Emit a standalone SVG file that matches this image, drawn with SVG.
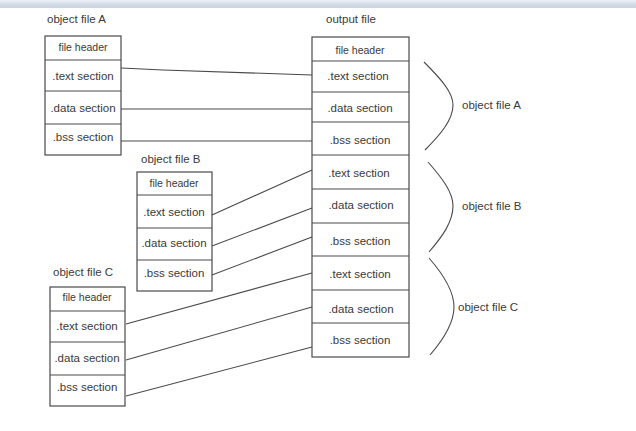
<svg xmlns="http://www.w3.org/2000/svg" width="636" height="431" viewBox="0 0 636 431">
<defs>
<linearGradient id="bar" x1="0" y1="0" x2="0" y2="1">
<stop offset="0" stop-color="#eef2f7"/>
<stop offset="0.5" stop-color="#d3dde9"/>
<stop offset="1" stop-color="#c8d4e2"/>
</linearGradient>
</defs>
<style>
.box{fill:#ffffff;stroke:#4a4a4a;stroke-width:1.2}
.sep{stroke:#4a4a4a;stroke-width:1.2}
.t{font-family:"Liberation Sans",Arial,sans-serif;font-size:11.5px;fill:#3a3a3a;text-anchor:middle;dominant-baseline:central}
.h{font-family:"Liberation Sans",Arial,sans-serif;font-size:10.5px;fill:#3a3a3a;text-anchor:middle;dominant-baseline:central}
.lbl{font-family:"Liberation Sans",Arial,sans-serif;font-size:11.5px;fill:#3a3a3a;dominant-baseline:central}
.c{fill:none;stroke:#4a4a4a;stroke-width:1.1}
</style>
<rect x="0" y="0" width="636" height="431" fill="#ffffff"/>
<rect x="0" y="0" width="636" height="8" fill="url(#bar)"/>

<g id="objA">
<text class="lbl" x="47" y="19">object file A</text>
<rect class="box" x="45" y="36" width="76" height="119"/>
<line class="sep" x1="45" y1="60" x2="121" y2="60"/>
<line class="sep" x1="45" y1="91" x2="121" y2="91"/>
<line class="sep" x1="45" y1="124" x2="121" y2="124"/>
<text class="h" x="83" y="47">file header</text>
<text class="t" x="83" y="76">.text section</text>
<text class="t" x="83" y="108">.data section</text>
<text class="t" x="83" y="137">.bss section</text>
</g>

<g id="objB">
<text class="lbl" x="141" y="159">object file B</text>
<rect class="box" x="137" y="172" width="75" height="119"/>
<line class="sep" x1="137" y1="195" x2="212" y2="195"/>
<line class="sep" x1="137" y1="228" x2="212" y2="228"/>
<line class="sep" x1="137" y1="260" x2="212" y2="260"/>
<text class="h" x="174" y="183">file header</text>
<text class="t" x="174" y="212">.text section</text>
<text class="t" x="174" y="243">.data section</text>
<text class="t" x="174" y="273">.bss section</text>
</g>

<g id="objC">
<text class="lbl" x="53" y="272">object file C</text>
<rect class="box" x="50" y="287" width="75" height="119"/>
<line class="sep" x1="50" y1="311" x2="125" y2="311"/>
<line class="sep" x1="50" y1="342" x2="125" y2="342"/>
<line class="sep" x1="50" y1="375" x2="125" y2="375"/>
<text class="h" x="87" y="297">file header</text>
<text class="t" x="87" y="326">.text section</text>
<text class="t" x="87" y="358">.data section</text>
<text class="t" x="87" y="387">.bss section</text>
</g>

<g id="output">
<text class="lbl" x="326" y="19">output file</text>
<rect class="box" x="312" y="37" width="97" height="320"/>
<line class="sep" x1="312" y1="61" x2="409" y2="61"/>
<line class="sep" x1="312" y1="92" x2="409" y2="92"/>
<line class="sep" x1="312" y1="122" x2="409" y2="122"/>
<line class="sep" x1="312" y1="155" x2="409" y2="155"/>
<line class="sep" x1="312" y1="189" x2="409" y2="189"/>
<line class="sep" x1="312" y1="223" x2="409" y2="223"/>
<line class="sep" x1="312" y1="256" x2="409" y2="256"/>
<line class="sep" x1="312" y1="290" x2="409" y2="290"/>
<line class="sep" x1="312" y1="323" x2="409" y2="323"/>
<text class="h" x="360" y="50">file header</text>
<text class="t" x="358" y="76">.text section</text>
<text class="t" x="360" y="108">.data section</text>
<text class="t" x="360" y="140">.bss section</text>
<text class="t" x="359" y="173">.text section</text>
<text class="t" x="361" y="205">.data section</text>
<text class="t" x="360" y="241">.bss section</text>
<text class="t" x="360" y="274">.text section</text>
<text class="t" x="361" y="309">.data section</text>
<text class="t" x="360" y="340">.bss section</text>
</g>

<g id="braces">
<path class="c" d="M424,62 C440,78 453,92 453,105 C453,120 440,135 425,150"/>
<path class="c" d="M428,162 C442,178 453,192 453,206 C453,222 442,237 429,252"/>
<path class="c" d="M429,258 C443,274 454,292 454,307 C454,324 443,340 430,355"/>
<text class="lbl" x="462" y="105">object file A</text>
<text class="lbl" x="462" y="206">object file B</text>
<text class="lbl" x="458" y="307">object file C</text>
</g>

<g id="connectors">
<path class="c" d="M121,68 L163,70 L312,75"/>
<line class="c" x1="121" y1="109" x2="312" y2="109"/>
<line class="c" x1="121" y1="141" x2="312" y2="141"/>
<line class="c" x1="212" y1="215" x2="312" y2="170"/>
<line class="c" x1="212" y1="246" x2="312" y2="208"/>
<line class="c" x1="212" y1="275" x2="312" y2="237"/>
<line class="c" x1="126" y1="324" x2="312" y2="273"/>
<line class="c" x1="126" y1="360" x2="312" y2="307"/>
<line class="c" x1="126" y1="396" x2="312" y2="347"/>
</g>
</svg>
